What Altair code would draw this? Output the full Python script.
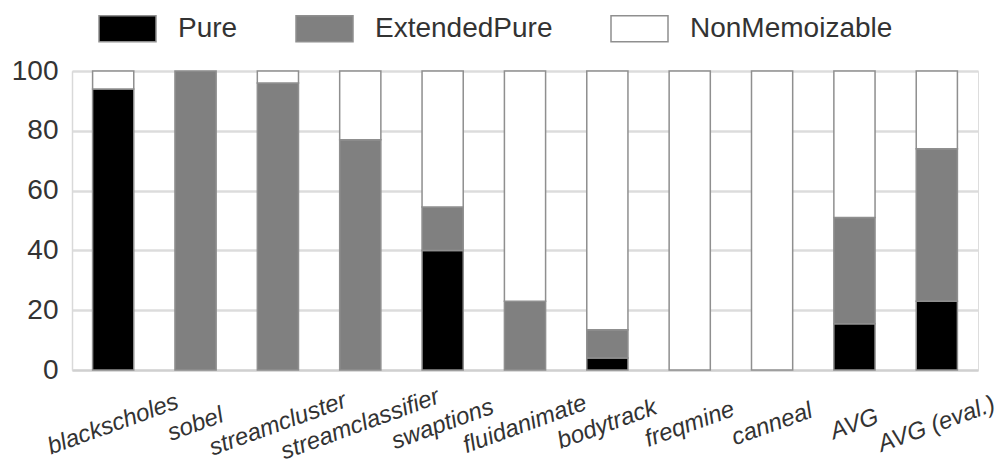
import altair as alt
import pandas as pd

# Share of memoizable functions per benchmark (percent)
benchmarks = [
    "blackscholes", "sobel", "streamcluster", "streamclassifier", "swaptions",
    "fluidanimate", "bodytrack", "freqmine", "canneal", "AVG", "AVG (eval.)",
]
pure = [94, 0, 0, 0, 40, 0, 4, 0, 0, 15.5, 23]
extended_pure = [0, 100, 96, 77, 14.5, 23, 9.5, 0, 0, 35.5, 51]
non_memoizable = [6, 0, 4, 23, 45.5, 77, 86.5, 100, 100, 49, 26]

categories = ["Pure", "ExtendedPure", "NonMemoizable"]
colors = ["#000000", "#808080", "#ffffff"]
y_ticks = [0, 20, 40, 60, 80, 100]

rows = []
for i, name in enumerate(benchmarks):
    for k, (cat, vals) in enumerate(zip(categories, [pure, extended_pure, non_memoizable])):
        rows.append({"benchmark": name, "category": cat, "order": k, "value": vals[i]})
df = pd.DataFrame(rows)

FONT = "Liberation Sans Narrow, Arial Narrow, Liberation Sans, Arial, sans-serif"
TEXT = "#333333"
EDGE = "#8f8f8f"

bars = alt.Chart(df).transform_filter(
    alt.datum.value > 0
).mark_bar(stroke=EDGE, strokeWidth=1.5).encode(
    x=alt.X(
        "benchmark:N",
        sort=benchmarks,
        title=None,
        scale=alt.Scale(domain=benchmarks, paddingInner=0.5, paddingOuter=0.25),
        axis=alt.Axis(
            labelAngle=-20,
            labelAlign="center",
            labelBaseline="middle",
            labelPadding=54,
            labelFont=FONT,
            labelFontStyle="italic",
            labelFontSize=24,
            labelColor=TEXT,
            labelLimit=0,
            labelOverlap=False,
            labelBound=False,
            ticks=False,
            domainColor="#d0d0d0",
            domainWidth=2,
            grid=False,
        ),
    ),
    y=alt.Y(
        "value:Q",
        stack="zero",
        title=None,
        scale=alt.Scale(domain=[0, 100], nice=False),
        axis=alt.Axis(
            values=y_ticks,
            labelFont=FONT,
            labelFontSize=28,
            labelColor=TEXT,
            labelPadding=14,
            ticks=False,
            domainColor="#d9d9d9",
            domainWidth=1.5,
            gridColor="#dcdcdc",
            gridWidth=2.5,
        ),
    ),
    color=alt.Color(
        "category:N",
        sort=categories,
        scale=alt.Scale(domain=categories, range=colors),
        legend=alt.Legend(
            title=None,
            orient="none",
            direction="horizontal",
            legendX=26,
            legendY=-72,
            padding=0,
            symbolType="M-1,-0.456H1V0.456H-1Z",
            symbolSize=3249,
            symbolStrokeColor=EDGE,
            symbolStrokeWidth=1.5,
            symbolOpacity=1,
            labelFont=FONT,
            labelFontSize=28,
            labelColor=TEXT,
            labelLimit=0,
            labelOffset=21,
            columnPadding=55,
        ),
    ),
    order=alt.Order("order:Q"),
)

chart = bars.properties(
    width=906,
    height=299,
    autosize="none",
    padding={"left": 72, "top": 71, "right": 27, "bottom": 103},
).configure_view(stroke=None).configure(background="white")

chart.save("out.html", embed_options={"renderer": "svg", "actions": False})
